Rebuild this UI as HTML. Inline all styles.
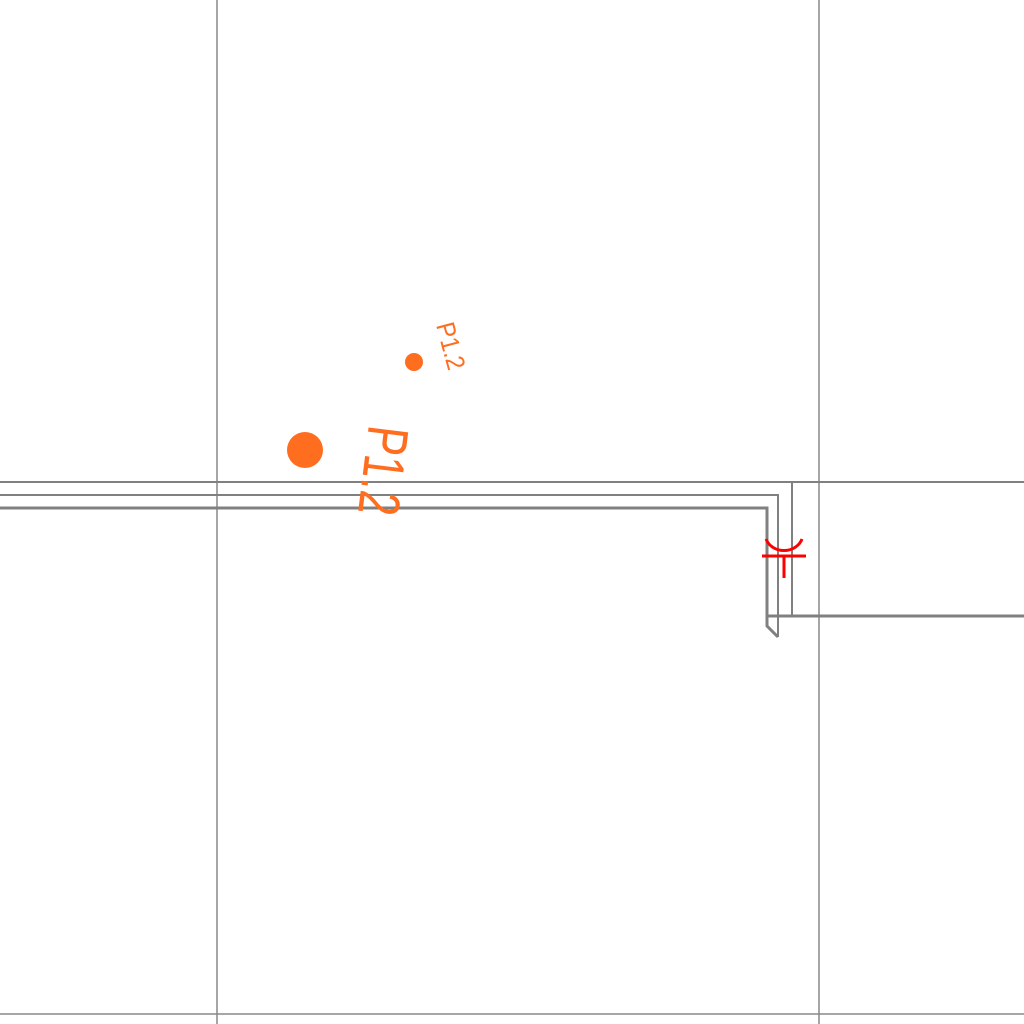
<!DOCTYPE html>
<html><head><meta charset="utf-8"><style>html,body{margin:0;padding:0;background:#fff}svg{display:block}</style></head>
<body>
<svg width="1024" height="1024" viewBox="0 0 1024 1024">
<g stroke="#888" stroke-width="1.5" fill="none">
<line x1="217" y1="0" x2="217" y2="1024"/>
<line x1="819" y1="0" x2="819" y2="1024"/>
<line x1="0" y1="1014" x2="1024" y2="1014"/>
</g>
<g stroke="#808080" fill="none">
<line x1="0" y1="482" x2="1024" y2="482" stroke-width="2"/>
<polyline points="0,495 778,495 778,637" stroke-width="2"/>
<polyline points="0,508 767,508 767,626 778,637" stroke-width="3"/>
<line x1="792" y1="482" x2="792" y2="616" stroke-width="2"/>
<line x1="768" y1="616" x2="1024" y2="616" stroke-width="3"/>
</g>
<g stroke="#f00" stroke-width="3" fill="none">
<line x1="762" y1="556" x2="806" y2="556"/>
<line x1="784" y1="556" x2="784" y2="578"/>
<path d="M766,539 A19,17 0 0 0 802,539"/>
</g>
<circle cx="305" cy="450" r="18" fill="#ff6d1f"/>
<circle cx="414" cy="362" r="9" fill="#ff6d1f"/>
<text x="0" y="0" transform="translate(369,424) rotate(97) scale(0.75,1)" font-family="Liberation Sans, sans-serif" font-size="58" fill="#ff6d1f">P1.2</text>
<text x="0" y="0" transform="translate(436,325) rotate(75) scale(0.9,1)" font-family="Liberation Sans, sans-serif" font-size="26" fill="#ff6d1f">P1.2</text>
</svg>
</body></html>
